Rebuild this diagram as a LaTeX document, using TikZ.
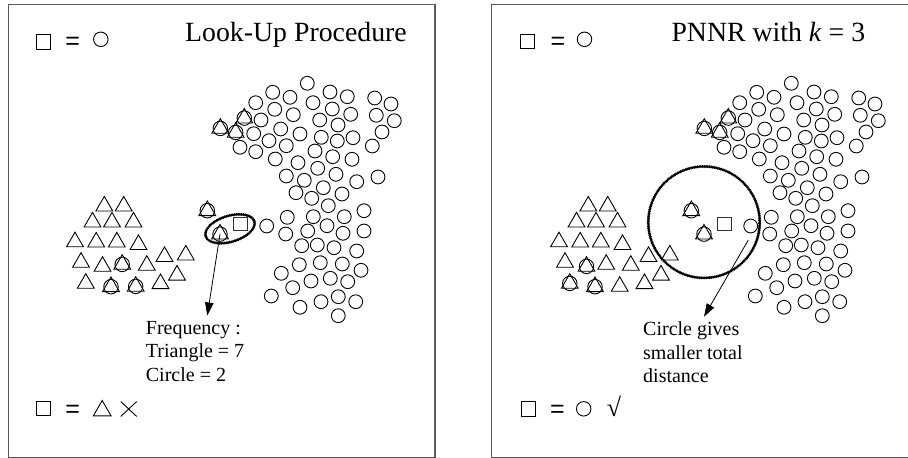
\documentclass[tikz,border=0pt]{standalone}
\usepackage{fontspec}
\setmainfont{Liberation Serif}
\newfontfamily\sansf{Liberation Sans}
\usetikzlibrary{shapes.geometric,shapes.misc,arrows.meta}
\def\circlist{307.3/83.3, 272.7/92.3, 290/97.3, 330/92, 347.3/96.7, 374.7/98, 391/104, 255.7/102.7, 274.7/109.3, 313/102.7, 332.3/109, 293.3/114.7, 350.7/114.3, 376.3/115.3, 261/120, 319.7/120, 338/125, 394.3/120.7, 253.7/133.7, 280.7/129, 300/134, 382/132, 321.3/137.3, 337.3/141, 353/137.7, 269/140.7, 286.3/145.7, 240/147.3, 255.7/151.7, 372.3/146, 315/151, 332.7/156.7, 352/159.3, 275.3/159, 298/162.7, 317.7/168.3, 336/174.3, 356.7/181.7, 378/177, 286.3/176, 304.3/180.3, 323.3/187.7, 296/192.7, 311.7/198.3, 342/194, 328.3/205.7, 266.7/226, 287.3/217.3, 313.3/216.7, 344.3/216.7, 364/210.7, 285.7/234, 307.7/231, 327/225.7, 343/233.3, 364/231, 301.7/245.7, 317.3/245, 334/247.7, 356.7/251, 299.3/264.7, 320.3/262.7, 342.3/264, 361/270.3, 281.3/273.3, 311/281, 330.3/278.3, 347.7/281.7, 292.7/287.7, 271.3/296, 321/301.7, 338.3/296.7, 355.7/301.7, 300/307.3, 338.3/315.7}
\def\trilist{104.3/203.7, 123.7/203.7, 92.5/219.7, 112/219.7, 133.5/219.7, 75/239.5, 96.2/239.7, 116.8/239.7, 138.5/242.2, 81/260, 146.8/263, 164.5/254.2, 185.8/252.7, 160.5/281.3, 177/272.8}
\def\tclist{220.3/126, 235.7/130, 244.3/115.7, 207.3/208.3, 220/231.7}
\begin{document}
\begin{tikzpicture}[x=1pt,y=-1pt,
  pt/.style={circle,draw,line width=0.9pt,minimum size=13.8pt,inner sep=0pt},
  tri/.style={regular polygon,regular polygon sides=3,draw,line width=0.9pt,minimum size=19.4pt,inner sep=0pt,yshift=-2.4pt},
  tcirc/.style={circle,draw,line width=0.9pt,minimum size=14.5pt,inner sep=0pt,yshift=-2.4pt},
  sq/.style={rectangle,draw=black!80,line width=0.9pt,minimum size=13.8pt,inner sep=0pt},
  dotline/.style={line width=3.1pt,dash pattern=on 0.01pt off 1.7pt,line cap=round},
  frame/.style={draw=black!65,line width=1.3pt},
  txt/.style={font=\fontsize{20}{23}\selectfont,inner sep=0pt,anchor=base west},
  ttl/.style={font=\fontsize{27.8}{30}\selectfont,inner sep=0pt,anchor=base west},
  eqs/.style={font=\sansf\fontsize{25}{25}\selectfont,inner sep=0pt,anchor=base},
  arr/.style={line width=0.8pt,-{Triangle[length=13pt,width=8.5pt]}}]
\useasboundingbox (0,0) rectangle (908,458);
\clip (0,0) rectangle (908,458);
% frames
\draw[frame] (8.3,4.3) rectangle (435,457.3);
\draw[frame] (491.7,4.3) rectangle (930,457.3);
% common scatter
\foreach \p/\o in {L/0,R/484}{
  \begin{scope}[xshift=\o pt]
    \foreach \x/\y [count=\i] in \circlist {\node[pt] (\p c\i) at (\x,\y) {};}
    \foreach \x/\y [count=\i] in \trilist {\node[tri] (\p t\i) at (\x,\y) {};}
    \foreach \x/\y [count=\i] in \tclist {\node[tri] (\p u\i) at (\x,\y) {};\node[tcirc] (\p v\i) at (\x,\y) {};}
  \end{scope}
}
% left panel specific triangles
\node[tri] (LtK) at (102.5,264) {};
\node[tri] (LtP) at (85.8,281) {};
\foreach \x/\y [count=\i] in {122.2/262, 111/284.3, 135.7/284}{\node[tri] (Lw\i) at (\x,\y) {};\node[tcirc] (Lz\i) at (\x,\y) {};}
% right panel specific triangles
\node[tri] (RtL) at (606.2,262) {};
\node[tri] (RtR) at (619.7,284) {};
\foreach \x/\y [count=\i] in {586.5/264, 569.8/281, 595/284.3}{\node[tri] (Rw\i) at (\x,\y) {};\node[tcirc] (Rz\i) at (\x,\y) {};}
% query squares
\node[sq] (Lq) at (240.5,224) {};
\node[sq] (Rq) at (724.5,224) {};
% left: ellipse, arrow, text
\node[draw,ellipse,dotline,minimum width=51pt,minimum height=26pt,inner sep=0pt,rotate=17] (Lell) at (230,228.8) {};
\coordinate (Ltip) at (207.3,315.5);
\draw[arr] (Lu5.center) -- (Ltip);
\node[txt] (Lf1) at (145.7,334.3) {Frequency :};
\node[txt] (Lf2) at (145.7,357.8) {Triangle = 7};
\node[txt] (Lf3) at (145.7,381.5) {Circle = 2};
% right: big circle, arrow, text
\node[circle,draw,dotline,minimum size=111.5pt,inner sep=0pt] (Rbig) at (704,222.2) {};
\coordinate (Rstart) at (748.3,240);
\coordinate (Rtip) at (704,316.7);
\draw[arr] (Rstart) -- (Rtip);
\node[txt] (Rf1) at (643,335) {Circle gives};
\node[txt] (Rf2) at (643,359) {smaller total};
\node[txt] (Rf3) at (643,382.7) {distance};
% titles
\node[ttl] (Ltitle) at (185,41.7) {Look-Up Procedure};
\node[ttl] (Rtitle) at (671.3,41.7) {PNNR with \textit{k} = 3};
% legends left
\node[sq,draw=black,minimum size=14.5pt] (LlegS1) at (43.5,41.8) {};
\node[eqs] (LlegE1) at (72.7,49.5) {=};
\node[pt,minimum size=14.5pt] (LlegC1) at (100.8,39.3) {};
\node[sq,draw=black,minimum size=14.5pt] (LlegS2) at (43.5,408.3) {};
\node[eqs] (LlegE2) at (72.7,417) {=};
\node[tri,minimum size=20.4pt] (LlegT2) at (102.2,408.3) {};
\node[cross out,draw,line width=0.9pt,minimum width=15pt,minimum height=14pt,inner sep=0pt] (LlegX2) at (128.7,409) {};
% legends right
\node[sq,draw=black,minimum size=14.5pt] (RlegS1) at (527.5,41.3) {};
\node[eqs] (RlegE1) at (558,49.5) {=};
\node[pt,minimum size=14.5pt] (RlegC1) at (584.5,39.3) {};
\node[sq,draw=black,minimum size=14.5pt] (RlegS2) at (528.5,409) {};
\node[eqs] (RlegE2) at (557.5,417.5) {=};
\node[pt,minimum size=14.5pt] (RlegC2) at (583.7,408.8) {};
\node[font=\fontsize{26}{26}\selectfont,inner sep=0pt] (RlegV2) at (614,406.5) {√};
\end{tikzpicture}
\end{document}
